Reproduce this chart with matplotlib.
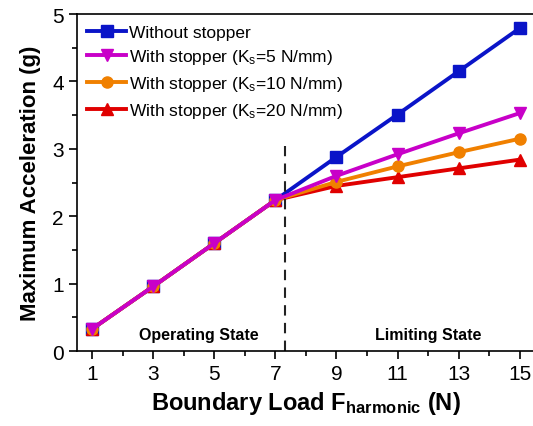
import numpy as np
import matplotlib
matplotlib.use('Agg')
import matplotlib.pyplot as plt
from matplotlib.ticker import MultipleLocator

plt.rcParams['font.family'] = ['Liberation Sans', 'DejaVu Sans']
plt.rcParams['mathtext.fontset'] = 'custom'
plt.rcParams['mathtext.rm'] = 'Liberation Sans'
plt.rcParams['mathtext.it'] = 'Liberation Sans'
plt.rcParams['mathtext.bf'] = 'Liberation Sans:bold'

# Data
load = [1, 3, 5, 7, 9, 11, 13, 15]
no_stopper = [0.33, 0.96, 1.60, 2.24, 2.88, 3.51, 4.15, 4.79]
ks5 = [0.33, 0.96, 1.60, 2.24, 2.60, 2.92, 3.23, 3.53]
ks10 = [0.33, 0.96, 1.60, 2.24, 2.51, 2.74, 2.95, 3.15]
ks20 = [0.33, 0.96, 1.60, 2.24, 2.45, 2.58, 2.71, 2.84]
boundary = 7.33

fig = plt.figure(figsize=(5.33, 4.27), dpi=100)
ax = fig.add_axes([0.1445, 0.1756, 0.859, 0.789])

lw = 2.8
ms = 8
l1, = ax.plot(load, no_stopper, '-s', color='#0a14c8', lw=lw, ms=ms, label='Without stopper')
l4, = ax.plot(load, ks20, '-^', color='#e00000', lw=lw, ms=ms, label='With stopper (K$_\\mathrm{s}$=20 N/mm)')
l3, = ax.plot(load, ks10, '-o', color='#f08000', lw=lw, ms=ms, label='With stopper (K$_\\mathrm{s}$=10 N/mm)')
l2, = ax.plot(load, ks5, '-v', color='#c800c8', lw=lw, ms=ms, label='With stopper (K$_\\mathrm{s}$=5 N/mm)')

ax.vlines(boundary, 0, 3.05, color='#222222', linestyles=[(0, (5, 3.5))], lw=1.5)

ax.text(4.5, 0.25, 'Operating State', fontsize=11.5, fontweight='bold', ha='center', va='center')
ax.text(12.0, 0.25, 'Limiting State', fontsize=11.5, fontweight='bold', ha='center', va='center')

ax.set_xlim(0.5, 15.5)
ax.set_ylim(0, 5)
ax.set_xticks(load)
ax.xaxis.set_minor_locator(MultipleLocator(1))
ax.yaxis.set_major_locator(MultipleLocator(1))
ax.yaxis.set_minor_locator(MultipleLocator(0.5))
ax.tick_params(which='major', direction='out', length=6, width=1.2, labelsize=15)
ax.tick_params(which='minor', direction='out', length=3.5, width=1.2)
for s in ax.spines.values():
    s.set_linewidth(1.2)

ax.set_xlabel('Boundary Load F$_{\\mathbf{harmonic}}$ (N)', fontsize=17, fontweight='bold', labelpad=4)
ax.set_ylabel('Maximum Acceleration (g)', fontsize=16, fontweight='bold', labelpad=8)

ax.legend(handles=[l1, l2, l3, l4], loc='upper left', frameon=False, fontsize=12.5,
          handlelength=2.2, handletextpad=0.2, labelspacing=0.45,
          borderaxespad=0.2, bbox_to_anchor=(0.0, 1.0))

fig.savefig('out.png', dpi=100)
